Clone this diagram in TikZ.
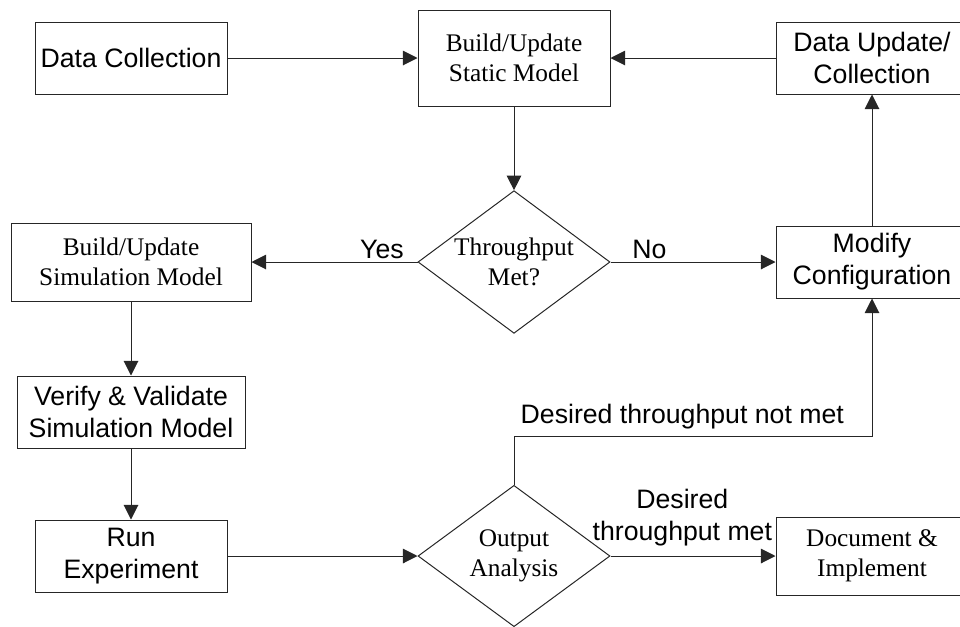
\documentclass[tikz,border=0pt]{standalone}
\usepackage{fontspec}
\setmainfont{Liberation Serif}
\setsansfont{Liberation Sans}
\usetikzlibrary{shapes.geometric,arrows.meta}

\tikzset{
    box/.style={draw=black!85, line width=0.75pt, align=center, inner sep=0pt},
    sansbox/.style={box, font=\sffamily\fontsize{20}{24}\selectfont},
    serifbox/.style={box, font=\rmfamily\fontsize{19}{22.5}\selectfont},
    decision/.style={diamond, draw=black!85, line width=0.75pt, align=center, inner sep=0pt,
        shape aspect=1.35, minimum width=144pt, minimum height=107pt,
        font=\rmfamily\fontsize{19}{22.5}\selectfont},
    arr/.style={draw=black!85, line width=0.75pt, -{Triangle[length=11pt,width=11pt]}},
    lbl/.style={font=\sffamily\fontsize{20}{24}\selectfont, align=center, inner sep=2pt}
}

\begin{document}
\begin{tikzpicture}[x=0.75pt, y=-0.75pt]

    % Fix the page to the size of the reference
    \useasboundingbox (0,0) rectangle (960,626);

    % Top row
    \node[sansbox, minimum width=144pt, minimum height=54pt] (collect) at (131,58) {Data Collection};
    \node[serifbox, minimum width=144pt, minimum height=72pt] (static) at (514,58) {Build/Update\\Static Model};
    \node[sansbox, minimum width=144pt, minimum height=54pt] (update) at (872,58) {Data Update/\\Collection};

    % Middle row
    \node[serifbox, minimum width=180pt, minimum height=58.5pt] (simmodel) at (131,262) {Build/Update\\Simulation Model};
    \node[decision] (tput) at (514,262) {Throughput\\Met?};
    \node[sansbox, minimum width=144pt, minimum height=54pt] (modify) at (872,262) {Modify\\Configuration};

    % Left column
    \node[sansbox, minimum width=171pt, minimum height=54pt] (verify) at (131,412) {Verify \& Validate\\Simulation Model};
    \node[sansbox, minimum width=144pt, minimum height=54pt] (run) at (131,556) {Run\\Experiment};

    % Bottom row
    \node[decision, minimum height=106pt] (output) at (514,556) {Output\\Analysis};
    \node[serifbox, minimum width=144pt, minimum height=58.5pt] (document) at (872,556) {Document \&\\Implement};

    % Corner of the loop back to the configuration
    \coordinate (turn) at (514,436);

    % Connectors
    \draw[arr] (collect) -- (static);
    \draw[arr] (update) -- (static);
    \draw[arr] (static) -- (tput);
    \draw[arr] (tput.west) -- (simmodel.east)
        node[lbl, pos=0, anchor=south east, xshift=-8pt] (yes) {Yes};
    \draw[arr] (tput.east) -- (modify.west)
        node[lbl, pos=0, anchor=south west, xshift=14pt] (no) {No};
    \draw[arr] (modify) -- (update);
    \draw[arr] (simmodel) -- (verify);
    \draw[arr] (verify) -- (run);
    \draw[arr] (run.east) -- (output.west);
    \draw[arr] (output.east) -- (document.west)
        node[lbl, midway, above, xshift=-8pt, yshift=5pt] (met) {Desired\\throughput met};
    \draw[arr] (output.north) -- (turn) -| (modify.south)
        node[lbl, pos=0.235, above, yshift=3pt] (notmet) {Desired throughput not met};

\end{tikzpicture}
\end{document}
